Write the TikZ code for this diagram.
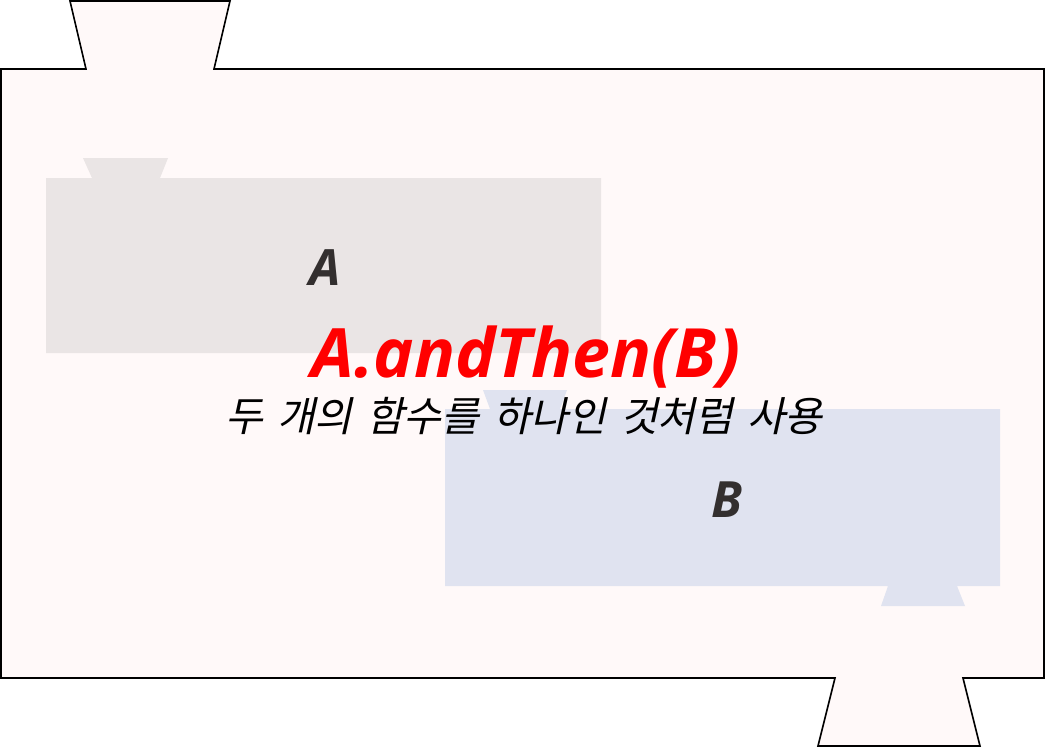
\documentclass[tikz,border=0pt]{standalone}
\usepackage{fontspec}
\newfontfamily\latinfont{Open Sans}
\newfontfamily\krfont[FakeSlant=0.22,WordSpace=1.5]{Noto Sans CJK KR}
\definecolor{outerfill}{RGB}{255,249,249}
\definecolor{grayfill}{RGB}{234,229,229}
\definecolor{bluefill}{RGB}{224,227,240}
\definecolor{labelgray}{RGB}{51,47,47}
\tikzset{
  outline/.style={draw=black, line width=1.6pt, fill=outerfill, line join=miter},
  funcA/.style={fill=grayfill},
  funcB/.style={fill=bluefill},
  lbl/.style={inner sep=0pt, anchor=base, text=labelgray, font=\latinfont\bfseries\itshape\fontsize{50}{50}\selectfont},
  title/.style={inner sep=0pt, anchor=base, text=red, font=\latinfont\bfseries\itshape\fontsize{68}{68}\selectfont},
  subtitle/.style={inner sep=0pt, anchor=base, text=black, font=\krfont\fontsize{41}{41}\selectfont}
}
\begin{document}
\begin{tikzpicture}[x=1pt,y=-1pt]
\useasboundingbox (0,0) rectangle (1045,747);
% outer shape
\draw[outline] (1,69) -- (86,69) -- (70,1) -- (230,1) -- (214,69) -- (1044,69)
  -- (1044,678) -- (963,678) -- (980,746) -- (818,746) -- (835,678) -- (1,678) -- cycle;
% function A
\fill[funcA] (46,178) -- (92,178) -- (83,158) -- (168,158) -- (160,178) -- (601,178)
  -- (601,353) -- (46,353) -- cycle;
% function B
\fill[funcB] (445,409) -- (490,409) -- (483,390) -- (567,390) -- (560,409) -- (1000,409)
  -- (1000,586) -- (957,586) -- (965,606) -- (881,606) -- (888,586) -- (445,586) -- cycle;
% labels
\node[lbl] (labA) at (325,285) {A};
\node[lbl] (labB) at (727,517) {B};
\node[title] (ttl) at (526,377) {A.andThen(B)};
\node[subtitle] (sub) at (524,431) {두 개의 함수를 하나인 것처럼 사용};
\end{tikzpicture}
\end{document}
